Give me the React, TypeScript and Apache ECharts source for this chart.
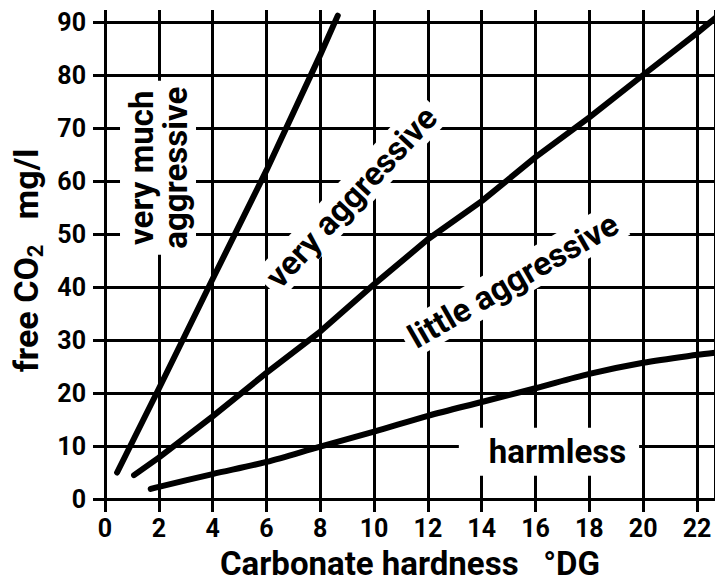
import React, { useEffect, useRef } from 'react';
import * as echarts from 'echarts';

// Axis ranges / ticks
const xMin = 0;
const xMax = 22;          // last labelled tick
const xPlotEnd = 22.67;   // the drawing runs on past the last tick to the page edge
const xStep = 2;
const yMin = 0;
const yMax = 90;
const yStep = 10;

// Boundary curves (carbonate hardness °DG -> free CO2 mg/l)
const veryMuchAggressiveLine = [
  [0.45, 5.0], [2, 20.8], [4, 41.5], [6, 62.0], [8, 83.8], [8.65, 91.2],
];
const veryAggressiveLine = [
  [1.08, 4.5], [2, 7.8], [4, 15.6], [6, 23.8], [8, 31.6], [10, 40.5],
  [12, 49.0], [14, 56.2], [16, 64.5], [18, 72.0], [20, 80.0], [22, 87.9], [22.67, 90.7],
];
const harmlessLine = [
  [1.7, 1.9], [2, 2.3], [4, 4.7], [6, 7.0], [8, 9.9], [10, 12.7], [12, 15.7],
  [14, 18.3], [16, 20.9], [18, 23.6], [20, 25.7], [22, 27.2], [22.67, 27.6],
];

// Region names and their anchor points (data units)
const regionNames = ['very much\naggressive', 'very aggressive', 'little aggressive', 'harmless'];
const regionAnchors = [[1.97, 62.5], [9.15, 57.0], [15.17, 41.3], [16.5, 8.9]];

const FONT = "Roboto, 'DejaVu Sans Condensed', sans-serif";

export default function App() {
  const ref = useRef<HTMLDivElement>(null);
  useEffect(() => {
    if (!ref.current) return;
    const chart = echarts.init(ref.current, undefined, { renderer: 'svg' });
    const black = '#000';
    const gridLine = { color: black, width: 3 };
    const rotations = [90, 47, 30, 0];
    const paddings: any[] = [[4, 6], [2, 6], [2, 6], [7, 13, 7, 30]];
    const hideExtent = (v: number) => (v > xMax ? '' : String(v));

    const lineSeries = (name: string, data: number[][], smooth: boolean | number) => ({
      name,
      type: 'line',
      data,
      smooth,
      showSymbol: false,
      symbol: 'none',
      clip: false,
      silent: true,
      z: 5,
      lineStyle: { color: black, width: 6, cap: 'round', join: 'round' },
    });

    chart.setOption({
      animation: false,
      backgroundColor: '#fff',
      grid: { left: 105, right: 0, top: 22, bottom: 86, containLabel: false, outerBoundsMode: 'none' },
      xAxis: [
        {
          type: 'value', min: xMin, max: xPlotEnd, interval: xStep, position: 'bottom',
          axisLine: { show: true, onZero: false, lineStyle: gridLine },
          axisTick: { show: true, length: 13, lineStyle: gridLine },
          axisLabel: { color: black, fontSize: 25, fontWeight: 'bold', fontFamily: FONT, margin: 17, formatter: hideExtent, showMaxLabel: false },
          splitLine: { show: true, lineStyle: gridLine },
          name: 'Carbonate hardness   °DG',
          nameLocation: 'middle',
          nameGap: 48,
          nameTextStyle: { color: black, fontSize: 33, lineHeight: 33, fontWeight: 'bold', fontFamily: FONT },
        },
        {
          type: 'value', min: xMin, max: xPlotEnd, interval: xStep, position: 'top',
          axisLine: { show: false, onZero: false },
          axisTick: { show: true, length: 12, lineStyle: gridLine },
          axisLabel: { show: false },
          splitLine: { show: false },
        },
      ],
      yAxis: [
        {
          type: 'value', min: yMin, max: yMax, interval: yStep, position: 'left',
          axisLine: { show: true, onZero: false, lineStyle: gridLine },
          axisTick: { show: true, length: 12, lineStyle: gridLine },
          axisLabel: { color: black, fontSize: 25, fontWeight: 'bold', fontFamily: FONT, margin: 19 },
          splitLine: { show: true, lineStyle: gridLine },
          name: 'free CO{sub|2}   mg/l',
          nameLocation: 'middle',
          nameGap: 48,
          nameTextStyle: {
            color: black, fontSize: 34, fontWeight: 'bold', fontFamily: FONT, lineHeight: 40,
            rich: {
              sub: { fontSize: 22, fontWeight: 'bold', fontFamily: FONT, color: black, lineHeight: 24, verticalAlign: 'bottom' },
            },
          },
        },
      ],
      series: [
        lineSeries('very much aggressive', veryMuchAggressiveLine, false),
        lineSeries('very aggressive', veryAggressiveLine, false),
        lineSeries('harmless', harmlessLine, 0.3),
        {
          name: 'regions',
          type: 'scatter',
          symbolSize: 0,
          silent: true,
          clip: false,
          z: 3,
          itemStyle: { color: black },
          data: regionAnchors.map((p, i) => ({
            value: p,
            label: {
              formatter: regionNames[i],
              rotate: rotations[i],
              padding: paddings[i],
            },
          })),
          label: {
            show: true,
            position: 'inside',
            color: black,
            opacity: 1,
            fontSize: 33,
            fontWeight: 'bold',
            fontFamily: FONT,
            lineHeight: 34,
            backgroundColor: '#fff',
            textBorderWidth: 0,
            textBorderColor: 'transparent',
            align: 'center',
            verticalAlign: 'middle',
          },
        },
      ],
    });
    return () => chart.dispose();
  }, []);
  return <div ref={ref} style={{ position: 'fixed', left: 0, top: 0, width: 715, height: 585 }} />;
}
